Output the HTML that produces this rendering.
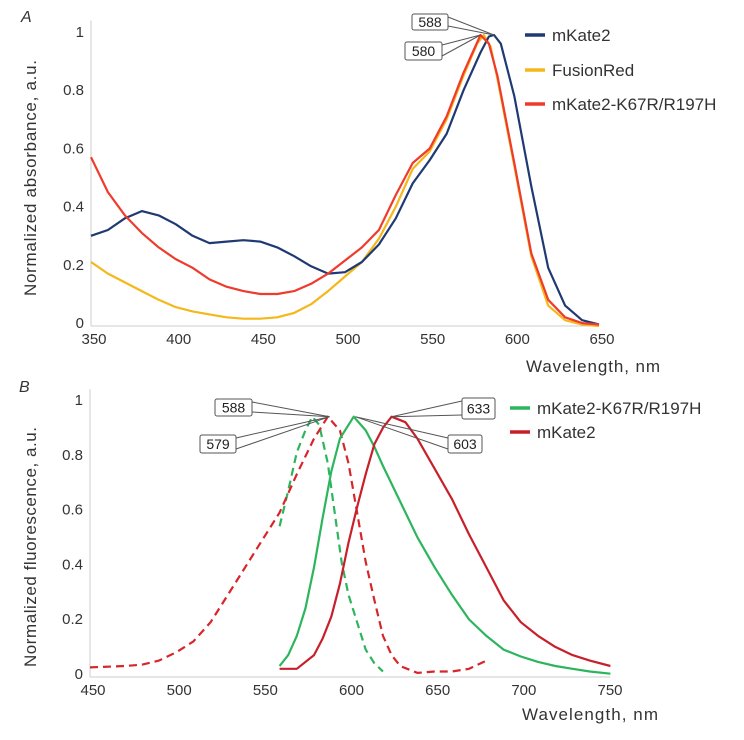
<!DOCTYPE html>
<html><head><meta charset="utf-8"><style>
body{margin:0;background:#fff;}
svg{font-family:"Liberation Sans",sans-serif;}
</style></head><body>
<svg id="c" width="744" height="735" xmlns="http://www.w3.org/2000/svg"></svg>
<script>
// Panel A data
const aWl_mKate2=[350,360,370,380,390,400,410,420,430,440,450,460,470,480,490,500,510,520,530,540,550,560,570,580,585,588,592,600,610,620,630,640,650];
const aVal_mKate2=[0.31,0.33,0.37,0.395,0.38,0.35,0.31,0.285,0.29,0.295,0.29,0.27,0.24,0.205,0.18,0.185,0.22,0.28,0.37,0.49,0.57,0.66,0.81,0.94,0.995,1.0,0.97,0.79,0.48,0.2,0.07,0.02,0.005];
const aWl_fusion=[350,360,370,380,390,400,410,420,430,440,450,460,470,480,490,500,510,520,530,540,550,560,570,578,582,586,590,600,610,620,630,640,650];
const aVal_fusion=[0.22,0.18,0.15,0.12,0.09,0.065,0.05,0.04,0.03,0.025,0.025,0.03,0.045,0.075,0.12,0.17,0.22,0.3,0.41,0.54,0.6,0.71,0.86,0.97,1.0,0.96,0.85,0.55,0.24,0.07,0.02,0.005,0];
const aWl_mut=[350,360,370,380,390,400,410,420,430,440,450,460,470,480,490,500,510,520,530,540,550,560,570,580,585,590,600,610,620,630,640,650];
const aVal_mut=[0.58,0.46,0.38,0.32,0.27,0.23,0.2,0.16,0.135,0.12,0.11,0.11,0.12,0.145,0.18,0.225,0.27,0.33,0.45,0.56,0.61,0.72,0.87,1.0,0.97,0.86,0.56,0.25,0.09,0.03,0.01,0.005];
const aXTicks=[350,400,450,500,550,600,650];
const aYTicks=[0,0.2,0.4,0.6,0.8,1];
const yLabels=["0","0.2","0.4","0.6","0.8","1"];
// Panel B data
const bWl_gEm=[560,565,570,575,580,585,590,595,600,603,610,615,620,630,640,650,660,670,680,690,700,710,720,730,740,752];
const bVal_gEm=[0.04,0.08,0.15,0.25,0.4,0.58,0.75,0.87,0.92,0.95,0.9,0.84,0.77,0.64,0.51,0.4,0.3,0.21,0.15,0.1,0.075,0.055,0.04,0.03,0.02,0.012];
const bWl_gEx=[560,565,570,575,579,583,588,592,596,600,605,610,615,620];
const bVal_gEx=[0.55,0.68,0.82,0.9,0.95,0.92,0.78,0.6,0.42,0.3,0.2,0.1,0.05,0.02];
const bWl_rEm=[560,570,580,585,590,595,600,605,610,615,620,625,633,640,650,660,670,680,690,700,710,720,730,740,752];
const bVal_rEm=[0.03,0.03,0.08,0.14,0.22,0.34,0.49,0.62,0.74,0.85,0.91,0.95,0.93,0.87,0.76,0.65,0.52,0.4,0.28,0.2,0.15,0.11,0.08,0.06,0.04];
const bWl_rEx=[450,470,480,490,500,510,520,530,540,550,560,570,580,588,595,600,605,610,615,620,625,630,640,650,660,670,680];
const bVal_rEx=[0.035,0.04,0.045,0.06,0.09,0.13,0.2,0.3,0.4,0.5,0.6,0.74,0.87,0.95,0.9,0.78,0.6,0.42,0.28,0.15,0.08,0.04,0.015,0.02,0.02,0.03,0.06];
const bXTicks=[450,500,550,600,650,700,750];
const bYTicks=[0,0.2,0.4,0.6,0.8,1];

const svg=document.getElementById('c');
const NS='http://www.w3.org/2000/svg';
function mk(tag,attrs,txt){const e=document.createElementNS(NS,tag);for(const k in attrs)e.setAttribute(k,attrs[k]);if(txt!==undefined)e.textContent=txt;svg.appendChild(e);return e;}
const axA={x:v=>91+(v-350)*(508/300),y:v=>326-v*291};
const axB={x:v=>90+(v-450)*(517/300),y:v=>677-v*274};
function curve(ax,xs,ys,color,name,dash){
  let d='';xs.forEach((w,i)=>{d+=(i?'L':'M')+ax.x(w).toFixed(1)+','+ax.y(ys[i]).toFixed(1);});
  const p=mk('path',{d:d,fill:'none',stroke:color,'stroke-width':2.2,'stroke-linejoin':'round'});
  if(dash)p.setAttribute('stroke-dasharray','8,5');
  
  
}
function axes(ax,xt,yt,x0,x1,prefix){
  const a=mk('line',{x1:ax.x(x0),y1:ax.y(0),x2:ax.x(x1),y2:ax.y(0),stroke:'#ccc','stroke-width':1});
  
  const b=mk('line',{x1:ax.x(x0),y1:ax.y(0),x2:ax.x(x0),y2:ax.y(1.05),stroke:'#ccc','stroke-width':1});
  
  xt.forEach(v=>{const t=mk('text',{x:ax.x(v)+3,y:ax.y(0)+18,'text-anchor':'middle','font-size':15,fill:'#333'},String(v));
    });
  yt.forEach((v,i)=>{const t=mk('text',{x:ax.x(x0)-7,y:ax.y(v)+2,'text-anchor':'end','font-size':15,fill:'#333'},yLabels[i]);
    });
}
axes(axA,aXTicks,aYTicks,350,650,'a');
axes(axB,bXTicks,bYTicks,450,752,'b');
curve(axA,aWl_fusion,aVal_fusion,'#f5b719','fusionred-absorbance');
curve(axA,aWl_mKate2,aVal_mKate2,'#1f3a73','mkate2-absorbance');
curve(axA,aWl_mut,aVal_mut,'#ef3b2c','mutant-absorbance');
curve(axB,bWl_gEx,bVal_gEx,'#2db55d','mutant-excitation',true);
curve(axB,bWl_rEx,bVal_rEx,'#d7262b','mkate2-excitation',true);
curve(axB,bWl_gEm,bVal_gEm,'#2db55d','mutant-emission');
curve(axB,bWl_rEm,bVal_rEm,'#c8202a','mkate2-emission');

function box(x,y,w,h,txt,tx,ty,name,right){
  const ex=right?x:x+w;
  mk('line',{x1:ex,y1:y+h-4,x2:tx,y2:ty,stroke:'#555','stroke-width':1});
  mk('line',{x1:ex,y1:y+3,x2:tx,y2:ty,stroke:'#555','stroke-width':1});
  const r=mk('rect',{x:x,y:y,width:w,height:h,rx:2,fill:'#fff',stroke:'#555','stroke-width':1});
  
  const t=mk('text',{x:x+w/2,y:y+h/2+5,'text-anchor':'middle','font-size':14,fill:'#222'},txt);
  
}
box(412,14,36,16,'588',axA.x(588),axA.y(1),'peak-588-a');
box(405,42,37,18,'580',axA.x(580),axA.y(1),'peak-580-a');
box(215,399,37,17,'588',axB.x(589),axB.y(0.95),'peak-588-b');
box(200,435,36,18,'579',axB.x(589),axB.y(0.95),'peak-579-b');
box(462,398,33,21,'633',axB.x(625),axB.y(0.95),'peak-633-b',true);
box(448,435,34,18,'603',axB.x(604),axB.y(0.95),'peak-603-b',true);

function legend(x,y,color,txt,name){
  const l=mk('line',{x1:x,y1:y,x2:x+20,y2:y,stroke:color,'stroke-width':3.5});
  
  const t=mk('text',{x:x+27,y:y+6,'font-size':17,fill:'#333'},txt);
  
}
legend(525,35,'#1f3a73','mKate2','legend-a-mkate2');
legend(525,70,'#f5b719','FusionRed','legend-a-fusionred');
legend(525,104,'#ef3b2c','mKate2-K67R/R197H','legend-a-mutant');
legend(510,408,'#2db55d','mKate2-K67R/R197H','legend-b-mutant');
legend(510,432,'#c8202a','mKate2','legend-b-mkate2');

function label(x,y,txt,name,extra){
  const t=mk('text',Object.assign({x:x,y:y,'font-size':17,fill:'#333'},extra||{}),txt);
  
}
label(21,22,'A','panel-a-label',{'font-style':'italic','font-size':16});
label(19,392,'B','panel-b-label',{'font-style':'italic','font-size':16});
label(526,372,'Wavelength, nm','a-x-axis-title',{textLength:134});
label(522,720,'Wavelength, nm','b-x-axis-title',{textLength:136});
label(36,178,'Normalized absorbance, a.u.','a-y-axis-title',{'text-anchor':'middle',transform:'rotate(-90 36 178)',textLength:236});
label(36,547,'Normalized fluorescence, a.u.','b-y-axis-title',{'text-anchor':'middle',transform:'rotate(-90 36 547)',textLength:240});
</script>
</body></html>
